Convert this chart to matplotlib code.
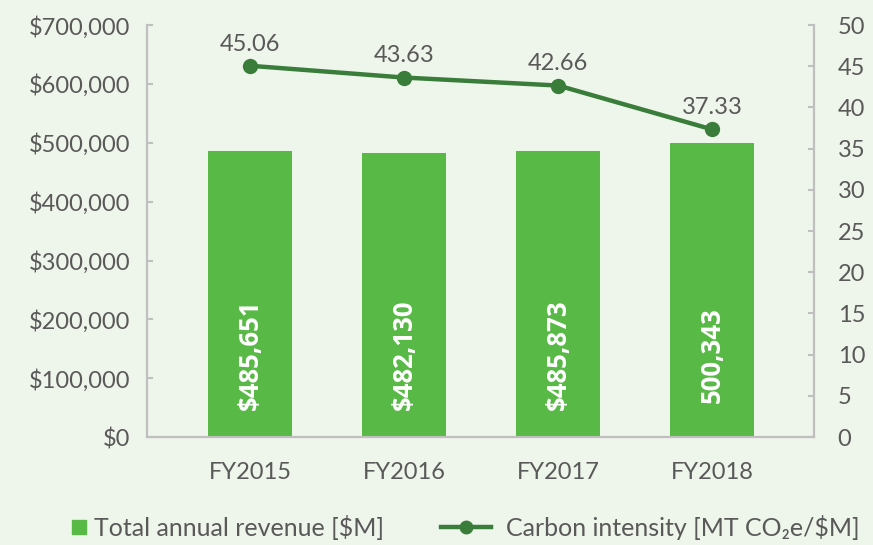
import matplotlib.pyplot as plt
from matplotlib.lines import Line2D
from matplotlib.ticker import FuncFormatter, MultipleLocator

# Data
years = ['FY2015', 'FY2016', 'FY2017', 'FY2018']
revenue = [485651, 482130, 485873, 500343]
revenue_labels = ['$485,651', '$482,130', '$485,873', '500,343']
intensity = [45.06, 43.63, 42.66, 37.33]

bg = '#EEF5EA'
bar_color = '#58B947'
line_color = '#3A7D3A'
text_color = '#595959'
spine_color = '#BFBFBF'

plt.rcParams['font.family'] = ['Lato', 'DejaVu Sans']

fig = plt.figure(figsize=(8.73, 5.45), dpi=100, facecolor=bg)
ax = fig.add_axes([0.1684, 0.198, 0.764, 0.756])
ax.set_facecolor(bg)

x = range(len(years))
bars = ax.bar(x, revenue, width=0.545, color=bar_color, zorder=2)
for b, lab in zip(bars, revenue_labels):
    ax.text(b.get_x() + b.get_width() / 2, 140000, lab, rotation=90,
            ha='center', va='center', color='white', fontsize=18.5,
            fontweight='bold', family=['Open Sans', 'DejaVu Sans'])

ax.set_ylim(0, 700000)
ax.set_xlim(-0.67, 3.66)
ax.yaxis.set_major_locator(MultipleLocator(100000))
ax.yaxis.set_major_formatter(FuncFormatter(lambda v, p: '${:,.0f}'.format(v)))
ax.set_xticks(list(x))
ax.set_xticklabels(years)

ax2 = ax.twinx()
ax2.plot(x, intensity, color=line_color, lw=3.2, marker='o', markersize=10,
         zorder=3)
for xi, v in zip(x, intensity):
    ax2.annotate('{:.2f}'.format(v), (xi, v), xytext=(0, 8),
                 textcoords='offset points', ha='center', va='bottom',
                 fontsize=17, color=text_color)
ax2.set_ylim(0, 50)
ax2.yaxis.set_major_locator(MultipleLocator(5))

for a in (ax, ax2):
    for s in a.spines.values():
        s.set_color(spine_color)
        s.set_linewidth(1.5)
    a.spines['top'].set_visible(False)
    a.tick_params(colors=text_color, labelsize=17, length=4, width=1.5,
                  color=spine_color, direction='in')
ax.tick_params(axis='x', length=0, pad=18)
ax.tick_params(axis='y', pad=12)
ax2.tick_params(axis='y', pad=17)

# two legends so the square handle can sit right before its text
bar_handle = Line2D([], [], color=bar_color, marker='s', linestyle='none', markersize=10)
line_handle = Line2D([], [], color=line_color, lw=3.2, marker='o', markersize=9)
leg1 = fig.legend([bar_handle], ['Total annual revenue [$M]'], loc='center left',
                  bbox_to_anchor=(0.082, 0.033), frameon=False, fontsize=18,
                  labelcolor=text_color, handlelength=0.6, handletextpad=0.3,
                  borderpad=0, borderaxespad=0)
leg2 = fig.legend([line_handle], ['Carbon intensity [MT CO₂e/$M]'], loc='center left',
                  bbox_to_anchor=(0.505, 0.033), frameon=False, fontsize=18,
                  labelcolor=text_color, handlelength=2.0, handletextpad=0.6,
                  borderpad=0, borderaxespad=0)

fig.savefig('out.png', dpi=100, facecolor=bg)
